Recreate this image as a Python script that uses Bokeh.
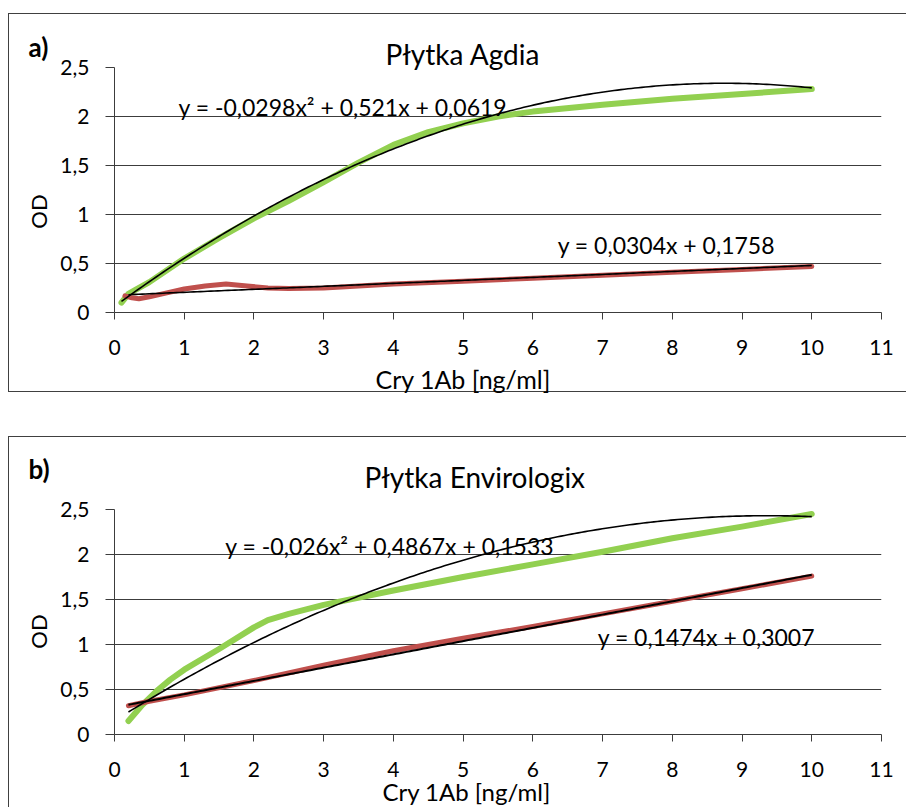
import numpy as np
from bokeh.plotting import figure
from bokeh.models import Label, FixedTicker, Range1d, Title
from bokeh.layouts import column
from bokeh.embed import file_html
from bokeh.resources import INLINE

FONT = "Lato"

# ---------------- data ----------------
x_ticks = [0, 1, 2, 3, 4, 5, 6, 7, 8, 9, 10, 11]
x_tick_labels = ["0", "1", "2", "3", "4", "5", "6", "7", "8", "9", "10", "11"]
y_ticks = [0, 0.5, 1, 1.5, 2, 2.5]
y_tick_labels = ["0", "0,5", "1", "1,5", "2", "2,5"]

# Panel a) Płytka Agdia
a_green_x = [0.1, 0.2, 0.3, 0.5, 1.0, 1.5, 2.0, 2.5, 3.0, 3.5, 4.0, 4.5, 5.0, 5.5, 6.0, 7.0, 8.0, 9.0, 10.0]
a_green_y = [0.10, 0.19, 0.23, 0.31, 0.55, 0.76, 0.96, 1.14, 1.33, 1.53, 1.71, 1.84, 1.93, 2.00, 2.05, 2.12, 2.18, 2.23, 2.28]
a_red_x = [0.15, 0.25, 0.35, 0.5, 0.75, 1.0, 1.3, 1.6, 1.9, 2.2, 2.5, 3.0, 4.0, 5.0, 6.0, 7.0, 8.0, 9.0, 10.0]
a_red_y = [0.17, 0.15, 0.14, 0.16, 0.20, 0.24, 0.27, 0.29, 0.27, 0.25, 0.245, 0.25, 0.29, 0.32, 0.35, 0.38, 0.41, 0.44, 0.47]
a_quad_coef = [-0.0298, 0.521, 0.0619]
a_quad_span = [0.1, 10.0]
a_lin_coef = [0.0304, 0.1758]
a_lin_span = [0.2, 10.0]
a_quad_text = "y = -0,0298x² + 0,521x + 0,0619"
a_lin_text = "y = 0,0304x + 0,1758"
a_tag = "a)"
a_title = "Płytka Agdia"
a_xlabel = "Cry 1Ab [ng/ml]"

# Panel b) Płytka Envirologix
b_green_x = [0.2, 0.4, 0.6, 0.8, 1.0, 1.5, 2.0, 2.2, 2.5, 3.0, 4.0, 5.0, 6.0, 7.0, 8.0, 9.0, 10.0]
b_green_y = [0.15, 0.33, 0.48, 0.61, 0.72, 0.95, 1.19, 1.27, 1.34, 1.44, 1.60, 1.75, 1.89, 2.03, 2.18, 2.31, 2.45]
b_red_x = [0.2, 0.5, 1.0, 2.0, 3.0, 4.0, 5.0, 6.0, 7.0, 8.0, 9.0, 10.0]
b_red_y = [0.32, 0.37, 0.44, 0.60, 0.77, 0.93, 1.07, 1.20, 1.34, 1.48, 1.62, 1.76]
b_quad_coef = [-0.026, 0.4867, 0.1533]
b_quad_span = [0.2, 10.0]
b_lin_coef = [0.1474, 0.3007]
b_lin_span = [0.2, 10.0]
b_quad_text = "y = -0,026x² + 0,4867x + 0,1533"
b_lin_text = "y = 0,1474x + 0,3007"
b_tag = "b)"
b_title = "Płytka Envirologix"
b_xlabel = "Cry 1Ab  [ng/ml]"
y_label = "OD"

GREEN = "#92D050"
RED = "#C0504D"
EDGE = "#404040"


def trend(coef, span):
    xs = np.linspace(span[0], span[1], 200)
    return xs, np.polyval(coef, xs)


def make_panel(height, mb):
    p = figure(width=906, height=height, x_range=Range1d(0, 11), y_range=Range1d(0, 2.5),
               output_backend="svg", toolbar_location=None,
               min_border_left=mb[0], min_border_right=mb[1],
               min_border_top=mb[2], min_border_bottom=mb[3])
    p.outline_line_color = None
    p.background_fill_color = "white"
    p.border_fill_color = None
    p.xgrid.grid_line_color = None
    p.ygrid.grid_line_color = "#3c3c3c"
    p.ygrid.grid_line_width = 1
    p.xaxis.ticker = FixedTicker(ticks=x_ticks)
    p.yaxis.ticker = FixedTicker(ticks=y_ticks)
    p.xaxis.major_label_overrides = dict(zip(x_ticks, x_tick_labels))
    p.yaxis.major_label_overrides = dict(zip(y_ticks, y_tick_labels))
    for ax in (p.xaxis[0], p.yaxis[0]):
        ax.axis_line_color = "#3c3c3c"
        ax.major_tick_line_color = "#3c3c3c"
        ax.minor_tick_line_color = None
        ax.major_tick_in = 0
        ax.major_label_text_font = FONT
        ax.major_label_text_font_size = "21px"
        ax.major_label_text_color = "black"
    p.xaxis.major_tick_out = 7
    p.yaxis.major_tick_out = 9
    p.xaxis.major_label_standoff = 20
    p.yaxis.major_label_standoff = 16
    return p


def canvas_label(p, side, x, y, text, size, bold=False, angle=0.0, align="left"):
    # x, y: canvas pixels (from the canvas top-left), text vertically centred on y
    p.add_layout(Label(x=x, y=y, x_units="canvas", y_units="canvas", text=text,
                       text_font=FONT, text_font_size=size,
                       text_font_style="bold" if bold else "normal",
                       text_align=align, text_baseline="middle", angle=angle,
                       text_color="black"), side)


def eq_label(p, x, y, text):
    p.add_layout(Label(x=x, y=y, text=text, text_font=FONT, text_font_size="23px",
                       text_align="left", text_baseline="middle", text_color="black"))


# ---------------- panel a (canvas = page rows 0..400) ----------------
pa = make_panel(400, (114, 25, 67, 88))
pa.line(a_green_x, a_green_y, line_color=GREEN, line_width=6, line_cap="round", line_join="round")
pa.line(a_red_x, a_red_y, line_color=RED, line_width=5, line_cap="round", line_join="round")
tx, ty = trend(a_quad_coef, a_quad_span)
pa.line(tx, ty, line_color="black", line_width=1.6)
tx, ty = trend(a_lin_coef, a_lin_span)
pa.line(tx, ty, line_color="black", line_width=1.6)
eq_label(pa, 0.918, 2.095, a_quad_text)
eq_label(pa, 6.356, 0.687, a_lin_text)
pa.add_layout(Title(text=a_title, align="left", offset=271, text_font=FONT,
                    text_font_size="28px", text_font_style="normal", text_color="black",
                    standoff=-7), "above")
canvas_label(pa, "above", 28, 46, a_tag, "26px", bold=True)
canvas_label(pa, "left", 38, 211, y_label, "22px", angle=np.pi / 2, align="center")
canvas_label(pa, "below", 375, 378, a_xlabel, "25px")

# ---------------- panel b (canvas = page rows 400..807) ----------------
pb = make_panel(407, (114, 20, 109, 73))
pb.line(b_green_x, b_green_y, line_color=GREEN, line_width=6, line_cap="round", line_join="round")
pb.line(b_red_x, b_red_y, line_color=RED, line_width=5, line_cap="round", line_join="round")
tx, ty = trend(b_quad_coef, b_quad_span)
pb.line(tx, ty, line_color="black", line_width=1.6)
tx, ty = trend(b_lin_coef, b_lin_span)
pb.line(tx, ty, line_color="black", line_width=2)
eq_label(pb, 1.59, 2.1, b_quad_text)
eq_label(pb, 6.93, 1.078, b_lin_text)
canvas_label(pb, "above", 28, 68, b_tag, "26px", bold=True)
canvas_label(pb, "above", 364, 76, b_title, "28px")
canvas_label(pb, "above", 382, 391, b_xlabel, "24px")
canvas_label(pb, "left", 38, 231, y_label, "22px", angle=np.pi / 2, align="center")

grad = "linear-gradient(%s, %s)" % (EDGE, EDGE)
page_styles = {
    "background-image": ", ".join([grad] * 5),
    "background-position": "8px 13px, 8px 13px, 8px 391px, 8px 436px, 8px 436px",
    "background-size": "898px 1px, 1px 379px, 898px 1px, 898px 1px, 1px 371px",
    "background-repeat": "no-repeat",
}

layout = column(pa, pb, spacing=0, styles=page_styles)
open("out.html", "w").write(file_html(layout, INLINE))
